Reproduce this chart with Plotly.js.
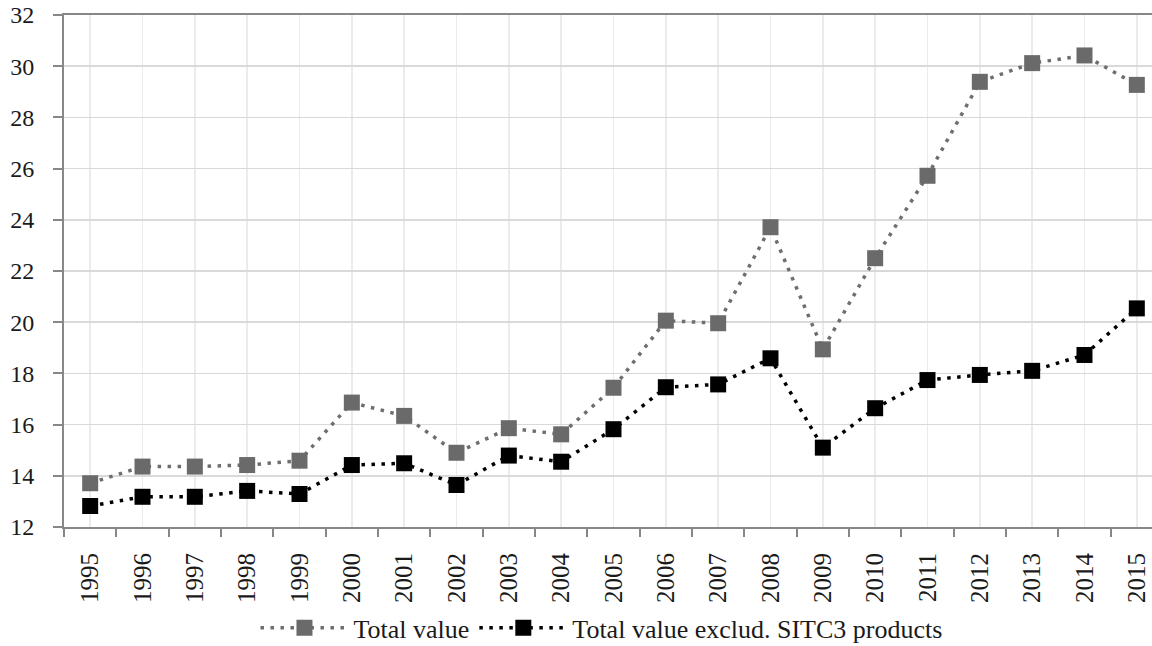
<!DOCTYPE html>
<html>
<head>
<meta charset="utf-8">
<script src="https://cdn.plot.ly/plotly-3.0.1.min.js"></script>
<style>html,body{margin:0;padding:0;background:#fff;}#chart{width:1152px;height:646px;}</style>
</head>
<body>
<div id="chart"></div>
<script>
const years = ["1995","1996","1997","1998","1999","2000","2001","2002","2003","2004","2005","2006","2007","2008","2009","2010","2011","2012","2013","2014","2015"];
const totalValue = [13.71,14.36,14.36,14.42,14.59,16.86,16.34,14.90,15.86,15.62,17.44,20.06,19.96,23.71,18.94,22.50,25.72,29.39,30.12,30.42,29.27];
const totalExclSITC3 = [12.82,13.18,13.18,13.41,13.29,14.42,14.49,13.64,14.79,14.55,15.82,17.46,17.57,18.59,15.10,16.64,17.74,17.94,18.10,18.72,20.54];
const seriesNames = ["Total value","Total value exclud. SITC3 products"];
const yTicks = [12,14,16,18,20,22,24,26,28,30,32];

const xIdx = years.map((y,i)=>i);
const font = "'Liberation Serif', 'Times New Roman', serif";

const traces = [
  {x: xIdx, y: totalValue, name: seriesNames[0], type: "scatter", mode: "lines+markers",
   line: {color: "#6e6e6e", width: 3.5, dash: "3.5px,6.5px"},
   marker: {symbol: "square", size: 16, color: "#6a6a6a"}},
  {x: xIdx, y: totalExclSITC3, name: seriesNames[1], type: "scatter", mode: "lines+markers",
   line: {color: "#000000", width: 3.5, dash: "3.5px,6.5px"},
   marker: {symbol: "square", size: 16, color: "#000000"}}
];

const layout = {
  width: 1152, height: 646,
  margin: {l: 64, r: 0, t: 15, b: 119},
  paper_bgcolor: "#fff", plot_bgcolor: "#fff",
  font: {family: font},
  showlegend: true,
  legend: {orientation: "h", x: 0.494, xanchor: "center", yref: "container", y: 0.028, yanchor: "middle",
           font: {family: font, size: 26, color: "#1a1a1a"}, itemwidth: 88, tracegroupgap: 0},
  xaxis: {
    type: "linear", range: [-0.5, 20.29],
    tickmode: "array", tickvals: xIdx, ticktext: years,
    tickangle: -90, ticks: "outside", ticklen: 8, tickcolor: "rgba(0,0,0,0)",
    ticklabelstandoff: 6,
    tickfont: {family: font, size: 25, color: "#1a1a1a"},
    showgrid: true, gridcolor: "#ebebeb", gridwidth: 1.5,
    showline: true, linecolor: "#878787", linewidth: 2, mirror: true,
    zeroline: false,
    minor: {tick0: -0.5, dtick: 1, ticks: "outside", ticklen: 8, tickcolor: "#878787", tickwidth: 2, showgrid: false}
  },
  yaxis: {
    range: [12, 32], tickmode: "array", tickvals: yTicks,
    ticks: "outside", ticklen: 9, tickcolor: "#878787", tickwidth: 2,
    ticklabelstandoff: 14,
    tickfont: {family: font, size: 24, color: "#1a1a1a"},
    showgrid: true, gridcolor: "#d9d9d9", gridwidth: 1.5,
    showline: true, linecolor: "#878787", linewidth: 2,
    zeroline: false
  }
};

Plotly.newPlot("chart", traces, layout, {staticPlot: true, displayModeBar: false});
</script>
</body>
</html>
